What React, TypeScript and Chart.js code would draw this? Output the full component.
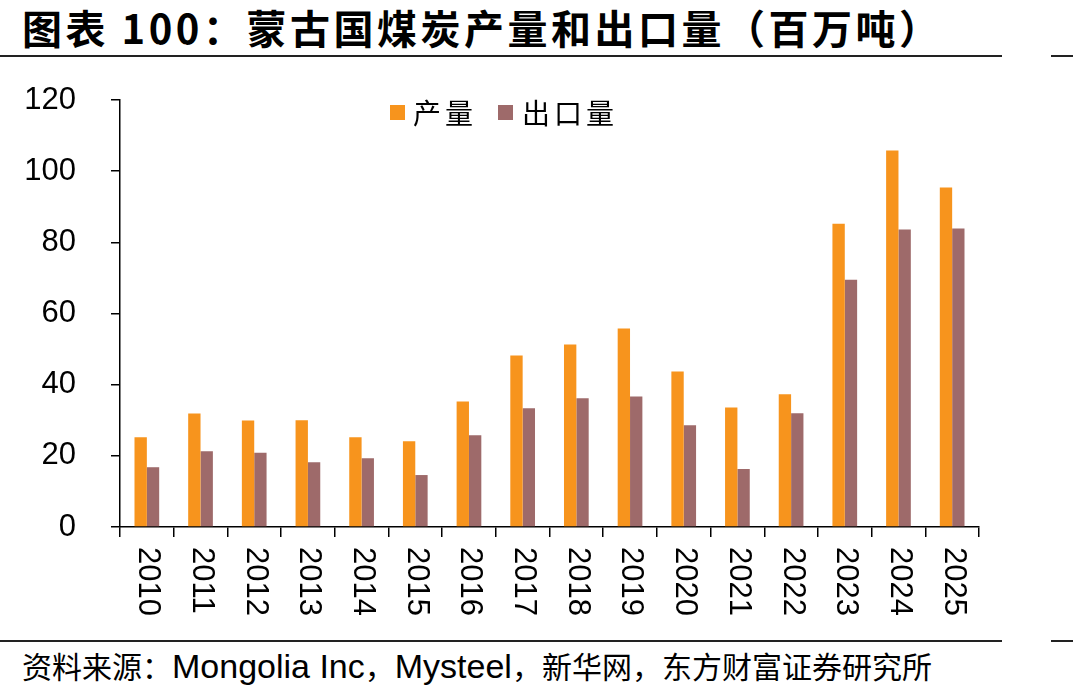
import React, { useEffect, useRef } from "react";
import { Chart, registerables } from "chart.js";

Chart.register(...registerables);

const years = ["2010", "2011", "2012", "2013", "2014", "2015", "2016", "2017", "2018", "2019", "2020", "2021", "2022", "2023", "2024", "2025"];
const production = [25.2, 31.9, 29.9, 30.0, 25.2, 24.1, 35.3, 48.2, 51.3, 55.8, 43.7, 33.6, 37.3, 85.2, 105.8, 95.4];
const exports = [16.8, 21.3, 20.9, 18.2, 19.3, 14.6, 25.8, 33.4, 36.2, 36.7, 28.6, 16.3, 32.0, 69.5, 83.6, 83.9];
const yTicks = [0, 20, 40, 60, 80, 100, 120];

const seriesNames = ["产量", "出口量"];
const seriesColors = ["#F7941D", "#9E6A6A"];

const titleText = "图表 100：蒙古国煤炭产量和出口量（百万吨）";

const tickFont = "'Liberation Sans', Arial, sans-serif";

const clockwiseLabels = {
  id: "clockwiseLabels",
  afterDraw(chart: any) {
    const scale = chart.scales.x;
    const ctx = chart.ctx;
    ctx.save();
    ctx.fillStyle = "#000";
    ctx.font = `31px ${tickFont}`;
    ctx.textAlign = "left";
    ctx.textBaseline = "middle";
    const top = scale.top + 20;
    scale.ticks.forEach((t: any, i: number) => {
      const x = scale.getPixelForTick(i);
      const label = chart.data.labels[t.value];
      ctx.save();
      ctx.translate(x + 1, top);
      ctx.rotate(Math.PI / 2);
      ctx.fillText(label, 0, 0);
      ctx.restore();
    });
    ctx.restore();
  },
};

export default function App() {
  const canvasRef = useRef<HTMLCanvasElement | null>(null);

  useEffect(() => {
    if (!canvasRef.current) return;
    const chart = new Chart(canvasRef.current, {
      type: "bar",
      data: {
        labels: years,
        datasets: [
          {
            label: seriesNames[0],
            data: production,
            backgroundColor: seriesColors[0],
            borderWidth: 0,
          },
          {
            label: seriesNames[1],
            data: exports,
            backgroundColor: seriesColors[1],
            borderWidth: 0,
          },
        ],
      },
      plugins: [clockwiseLabels],
      options: {
        responsive: false,
        animation: false,
        maintainAspectRatio: false,
        layout: { padding: { top: 30, right: 31, left: 0, bottom: 0 } },
        datasets: {
          bar: { categoryPercentage: 0.46, barPercentage: 1 },
        },
        plugins: {
          legend: { display: false },
          tooltip: { enabled: false },
        },
        scales: {
          x: {
            grid: {
              display: true,
              drawOnChartArea: false,
              drawTicks: true,
              tickLength: 10,
              color: "#000",
              lineWidth: 1.5,
              offset: true,
            },
            border: { display: true, color: "#000", width: 1.5 },
            ticks: {
              color: "rgba(0,0,0,0)",
              font: { family: tickFont, size: 12 },
              minRotation: 0,
              maxRotation: 0,
              autoSkip: false,
            },
            afterFit: (scale: any) => {
              scale.height = 103;
              scale.paddingLeft = 0;
              scale.paddingRight = 0;
            },
          },
          y: {
            min: 0,
            max: 120,
            afterBuildTicks: (scale: any) => {
              scale.ticks = yTicks.map((v) => ({ value: v }));
            },
            grid: {
              display: true,
              drawOnChartArea: false,
              drawTicks: true,
              tickLength: 9,
              color: "#000",
              lineWidth: 1.5,
            },
            border: { display: true, color: "#000", width: 1.5 },
            ticks: {
              color: "#000",
              font: { family: tickFont, size: 31 },
              padding: 35,
            },
            afterFit: (scale: any) => {
              scale.width = 120;
              scale.paddingTop = 0;
              scale.paddingBottom = 0;
            },
          },
        },
      },
    });
    return () => chart.destroy();
  }, []);

  const lineStyle = (top: number, left: number, width: number): React.CSSProperties => ({
    position: "absolute",
    top,
    left,
    width,
    height: 2,
    background: "#222",
  });

  return (
    <div
      style={{
        position: "fixed",
        left: 0,
        top: 0,
        width: 1073,
        height: 694,
        background: "#fff",
        overflow: "hidden",
      }}
    >
      <div
        style={{
          position: "absolute",
          left: 22,
          top: 2,
          fontFamily: "'Noto Sans CJK SC', sans-serif",
          fontWeight: 700,
          fontSize: 40,
          letterSpacing: 3.5,
          lineHeight: "50px",
          whiteSpace: "nowrap",
          color: "#000",
        }}
      >
        {titleText}
      </div>
      <div style={lineStyle(55, 0, 1002)} />
      <div style={lineStyle(55, 1051, 22)} />

      <canvas
        ref={canvasRef}
        width={1010}
        height={560}
        style={{ position: "absolute", left: 0, top: 70, width: 1010, height: 560 }}
      />

      <div
        style={{
          position: "absolute",
          left: 390,
          top: 94,
          display: "flex",
          alignItems: "center",
          fontFamily: "'Noto Sans CJK SC', sans-serif",
          fontSize: 28,
          lineHeight: "36px",
          whiteSpace: "nowrap",
          color: "#000",
        }}
      >
        <span style={{ display: "inline-block", width: 15, height: 15, background: seriesColors[0] }} />
        <span style={{ marginLeft: 8, letterSpacing: 4 }}>{seriesNames[0]}</span>
        <span style={{ display: "inline-block", width: 15, height: 15, background: seriesColors[1], marginLeft: 21 }} />
        <span style={{ marginLeft: 9, letterSpacing: 4 }}>{seriesNames[1]}</span>
      </div>

      <div style={lineStyle(640, 0, 1002)} />
      <div style={lineStyle(640, 1051, 22)} />

      <div
        style={{
          position: "absolute",
          left: 22,
          top: 645,
          fontFamily: "'Noto Sans CJK SC', sans-serif",
          fontSize: 30,
          lineHeight: "40px",
          whiteSpace: "nowrap",
          color: "#000",
        }}
      >
        资料来源：
        <span style={{ fontFamily: tickFont, fontSize: 34 }}>Mongolia Inc</span>
        ，
        <span style={{ fontFamily: tickFont, fontSize: 34 }}>Mysteel</span>
        ，新华网，东方财富证券研究所
      </div>
    </div>
  );
}
